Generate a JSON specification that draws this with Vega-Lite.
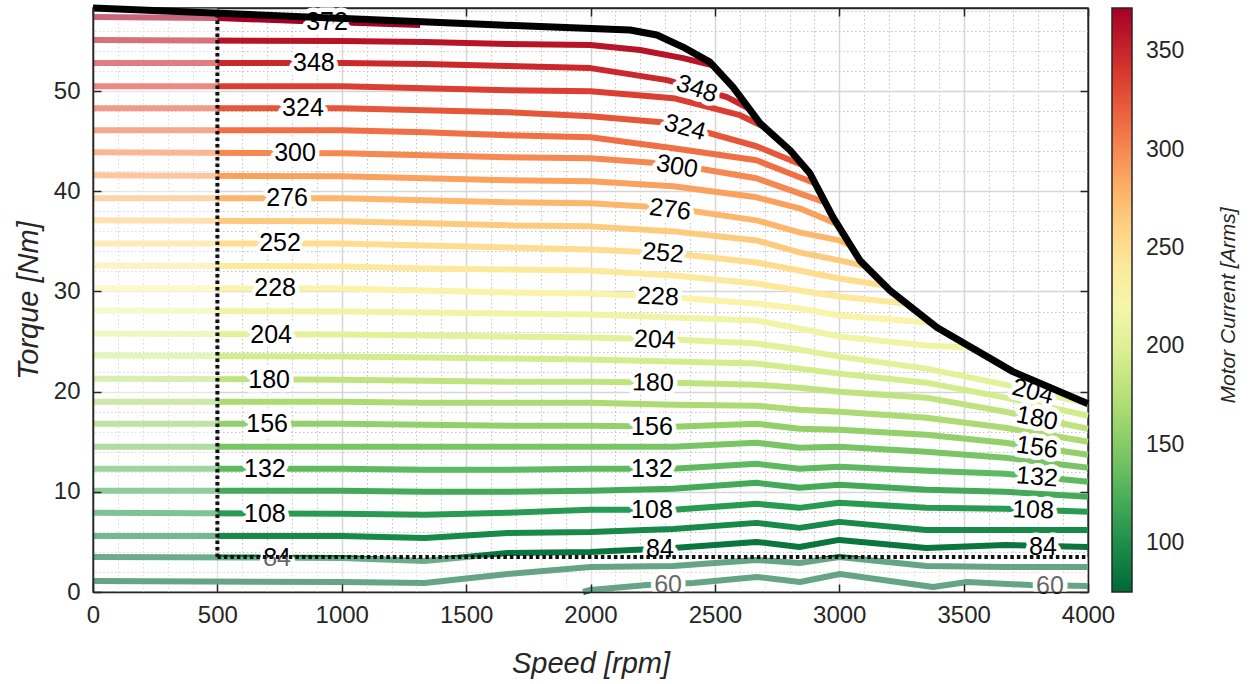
{
  "$schema": "https://vega.github.io/schema/vega-lite/v6.json",
  "width": 995,
  "height": 584,
  "autosize": {"type": "none"},
  "padding": {"left": 93, "top": 8, "right": 162, "bottom": 92},
  "background": "white",
  "config": {
    "view": {"stroke": "#262626", "strokeWidth": 1.5},
    "font": "Liberation Sans",
    "axis": {"labelFont": "Liberation Sans", "titleFont": "Liberation Sans", "labelColor": "#262626", "titleColor": "#262626", "tickColor": "#262626", "domainColor": "#262626", "domainWidth": 1.5, "tickWidth": 1.5, "labelOverlap": false, "labelFlush": false},
    "legend": {"labelFont": "Liberation Sans", "titleFont": "Liberation Sans"}
  },
  "datasets": {
    "lines": [
      {"I":60,"rpm":1970,"T":0},{"I":60,"rpm":1998,"T":0.2},{"I":60,"rpm":2227,"T":0.7},{"I":60,"rpm":2412,"T":0.9},{"I":60,"rpm":2669,"T":1.5},{"I":60,"rpm":2842,"T":1.0},{"I":60,"rpm":3003,"T":1.8},{"I":60,"rpm":3377,"T":0.5},{"I":60,"rpm":3514,"T":1.0},{"I":60,"rpm":3767,"T":0.7},{"I":60,"rpm":4000,"T":0.6},
      {"I":72,"rpm":0,"T":1.1},{"I":72,"rpm":1000,"T":1.0},{"I":72,"rpm":1333,"T":0.9},{"I":72,"rpm":1667,"T":1.8},{"I":72,"rpm":2000,"T":2.5},{"I":72,"rpm":2333,"T":2.6},{"I":72,"rpm":2667,"T":3.2},{"I":72,"rpm":2840,"T":2.9},{"I":72,"rpm":3000,"T":3.5},{"I":72,"rpm":3350,"T":2.6},{"I":72,"rpm":3667,"T":2.5},{"I":72,"rpm":4000,"T":2.5},
      {"I":84,"rpm":0,"T":3.5},{"I":84,"rpm":1000,"T":3.4},{"I":84,"rpm":1333,"T":3.1},{"I":84,"rpm":1667,"T":3.9},{"I":84,"rpm":2000,"T":4.0},{"I":84,"rpm":2333,"T":4.4},{"I":84,"rpm":2667,"T":5.0},{"I":84,"rpm":2840,"T":4.5},{"I":84,"rpm":3000,"T":5.2},{"I":84,"rpm":3350,"T":4.4},{"I":84,"rpm":3667,"T":4.7},{"I":84,"rpm":4000,"T":4.5},
      {"I":96,"rpm":0,"T":5.6},{"I":96,"rpm":1000,"T":5.6},{"I":96,"rpm":1333,"T":5.4},{"I":96,"rpm":1667,"T":5.9},{"I":96,"rpm":2000,"T":6.0},{"I":96,"rpm":2333,"T":6.3},{"I":96,"rpm":2667,"T":6.9},{"I":96,"rpm":2840,"T":6.4},{"I":96,"rpm":3000,"T":7.0},{"I":96,"rpm":3350,"T":6.2},{"I":96,"rpm":3667,"T":6.2},{"I":96,"rpm":4000,"T":6.2},
      {"I":108,"rpm":0,"T":7.9},{"I":108,"rpm":1000,"T":7.8},{"I":108,"rpm":1333,"T":7.7},{"I":108,"rpm":1667,"T":7.9},{"I":108,"rpm":2000,"T":8.2},{"I":108,"rpm":2333,"T":8.2},{"I":108,"rpm":2667,"T":8.8},{"I":108,"rpm":2840,"T":8.4},{"I":108,"rpm":3000,"T":8.9},{"I":108,"rpm":3350,"T":8.4},{"I":108,"rpm":3667,"T":8.3},{"I":108,"rpm":4000,"T":8.0},
      {"I":120,"rpm":0,"T":10.1},{"I":120,"rpm":1000,"T":10.1},{"I":120,"rpm":1333,"T":10.0},{"I":120,"rpm":1667,"T":10.0},{"I":120,"rpm":2000,"T":10.1},{"I":120,"rpm":2333,"T":10.3},{"I":120,"rpm":2667,"T":10.9},{"I":120,"rpm":2840,"T":10.4},{"I":120,"rpm":3000,"T":10.7},{"I":120,"rpm":3350,"T":10.2},{"I":120,"rpm":3667,"T":10.0},{"I":120,"rpm":4000,"T":9.5},
      {"I":132,"rpm":0,"T":12.3},{"I":132,"rpm":1000,"T":12.3},{"I":132,"rpm":1333,"T":12.2},{"I":132,"rpm":1667,"T":12.2},{"I":132,"rpm":2000,"T":12.3},{"I":132,"rpm":2333,"T":12.3},{"I":132,"rpm":2667,"T":12.8},{"I":132,"rpm":2840,"T":12.3},{"I":132,"rpm":3000,"T":12.5},{"I":132,"rpm":3350,"T":12.1},{"I":132,"rpm":3667,"T":11.8},{"I":132,"rpm":4000,"T":11.0},
      {"I":144,"rpm":0,"T":14.5},{"I":144,"rpm":1000,"T":14.5},{"I":144,"rpm":1333,"T":14.5},{"I":144,"rpm":1667,"T":14.5},{"I":144,"rpm":2000,"T":14.5},{"I":144,"rpm":2333,"T":14.5},{"I":144,"rpm":2667,"T":14.9},{"I":144,"rpm":2840,"T":14.4},{"I":144,"rpm":3000,"T":14.5},{"I":144,"rpm":3350,"T":14.0},{"I":144,"rpm":3667,"T":13.4},{"I":144,"rpm":4000,"T":12.4},
      {"I":156,"rpm":0,"T":16.8},{"I":156,"rpm":1000,"T":16.8},{"I":156,"rpm":1333,"T":16.7},{"I":156,"rpm":1667,"T":16.6},{"I":156,"rpm":2000,"T":16.6},{"I":156,"rpm":2333,"T":16.5},{"I":156,"rpm":2667,"T":16.8},{"I":156,"rpm":2840,"T":16.3},{"I":156,"rpm":3000,"T":16.2},{"I":156,"rpm":3350,"T":15.7},{"I":156,"rpm":3667,"T":14.9},{"I":156,"rpm":4000,"T":13.7},
      {"I":168,"rpm":0,"T":19.0},{"I":168,"rpm":1000,"T":19.0},{"I":168,"rpm":1333,"T":18.9},{"I":168,"rpm":1667,"T":18.9},{"I":168,"rpm":2000,"T":18.9},{"I":168,"rpm":2333,"T":18.7},{"I":168,"rpm":2667,"T":18.6},{"I":168,"rpm":2840,"T":18.2},{"I":168,"rpm":3000,"T":18.0},{"I":168,"rpm":3350,"T":17.4},{"I":168,"rpm":3667,"T":16.4},{"I":168,"rpm":4000,"T":15.0},
      {"I":180,"rpm":0,"T":21.3},{"I":180,"rpm":1000,"T":21.2},{"I":180,"rpm":1333,"T":21.1},{"I":180,"rpm":1667,"T":21.0},{"I":180,"rpm":2000,"T":21.0},{"I":180,"rpm":2333,"T":20.9},{"I":180,"rpm":2667,"T":20.7},{"I":180,"rpm":2840,"T":20.4},{"I":180,"rpm":3000,"T":20.0},{"I":180,"rpm":3350,"T":19.4},{"I":180,"rpm":3667,"T":18.0},{"I":180,"rpm":4000,"T":16.3},
      {"I":192,"rpm":0,"T":23.6},{"I":192,"rpm":1000,"T":23.5},{"I":192,"rpm":1333,"T":23.4},{"I":192,"rpm":1667,"T":23.3},{"I":192,"rpm":2000,"T":23.2},{"I":192,"rpm":2333,"T":23.0},{"I":192,"rpm":2667,"T":22.8},{"I":192,"rpm":2840,"T":22.3},{"I":192,"rpm":3000,"T":21.8},{"I":192,"rpm":3350,"T":20.9},{"I":192,"rpm":3667,"T":19.4},{"I":192,"rpm":4000,"T":17.6},
      {"I":204,"rpm":0,"T":25.8},{"I":204,"rpm":1000,"T":25.7},{"I":204,"rpm":1333,"T":25.6},{"I":204,"rpm":1667,"T":25.5},{"I":204,"rpm":2000,"T":25.4},{"I":204,"rpm":2333,"T":25.2},{"I":204,"rpm":2667,"T":24.8},{"I":204,"rpm":2840,"T":24.2},{"I":204,"rpm":3000,"T":23.5},{"I":204,"rpm":3350,"T":22.3},{"I":204,"rpm":3667,"T":20.7},{"I":204,"rpm":4000,"T":18.8},
      {"I":216,"rpm":0,"T":28.1},{"I":216,"rpm":1000,"T":28.0},{"I":216,"rpm":1333,"T":27.9},{"I":216,"rpm":1667,"T":27.8},{"I":216,"rpm":2000,"T":27.7},{"I":216,"rpm":2333,"T":27.4},{"I":216,"rpm":2667,"T":27.1},{"I":216,"rpm":2840,"T":26.3},{"I":216,"rpm":3000,"T":25.5},{"I":216,"rpm":3350,"T":24.6},{"I":216,"rpm":3526,"T":24.4},
      {"I":228,"rpm":0,"T":30.3},{"I":228,"rpm":1000,"T":30.3},{"I":228,"rpm":1333,"T":30.1},{"I":228,"rpm":1667,"T":29.9},{"I":228,"rpm":2000,"T":29.8},{"I":228,"rpm":2333,"T":29.4},{"I":228,"rpm":2667,"T":28.8},{"I":228,"rpm":2840,"T":28.3},{"I":228,"rpm":3000,"T":27.6},{"I":228,"rpm":3365,"T":26.9},
      {"I":240,"rpm":0,"T":32.6},{"I":240,"rpm":1000,"T":32.5},{"I":240,"rpm":1333,"T":32.3},{"I":240,"rpm":1667,"T":32.2},{"I":240,"rpm":2000,"T":32.1},{"I":240,"rpm":2333,"T":31.6},{"I":240,"rpm":2667,"T":30.8},{"I":240,"rpm":2840,"T":30.1},{"I":240,"rpm":3000,"T":29.5},{"I":240,"rpm":3272,"T":28.8},
      {"I":252,"rpm":0,"T":34.8},{"I":252,"rpm":1000,"T":34.8},{"I":252,"rpm":1333,"T":34.6},{"I":252,"rpm":1667,"T":34.4},{"I":252,"rpm":2000,"T":34.2},{"I":252,"rpm":2333,"T":33.8},{"I":252,"rpm":2667,"T":32.9},{"I":252,"rpm":2840,"T":32.1},{"I":252,"rpm":3000,"T":31.3},{"I":252,"rpm":3184,"T":30.6},
      {"I":264,"rpm":0,"T":37.1},{"I":264,"rpm":1000,"T":37.0},{"I":264,"rpm":1333,"T":36.8},{"I":264,"rpm":1667,"T":36.6},{"I":264,"rpm":2000,"T":36.5},{"I":264,"rpm":2333,"T":36.0},{"I":264,"rpm":2667,"T":35.1},{"I":264,"rpm":2840,"T":33.9},{"I":264,"rpm":3000,"T":33.1},{"I":264,"rpm":3108,"T":32.5},
      {"I":276,"rpm":0,"T":39.3},{"I":276,"rpm":1000,"T":39.3},{"I":276,"rpm":1333,"T":39.1},{"I":276,"rpm":1667,"T":38.9},{"I":276,"rpm":2000,"T":38.8},{"I":276,"rpm":2333,"T":38.3},{"I":276,"rpm":2667,"T":37.1},{"I":276,"rpm":2840,"T":35.9},{"I":276,"rpm":3000,"T":35.1},{"I":276,"rpm":3043,"T":34.6},
      {"I":288,"rpm":0,"T":41.6},{"I":288,"rpm":1000,"T":41.5},{"I":288,"rpm":1333,"T":41.3},{"I":288,"rpm":1667,"T":41.1},{"I":288,"rpm":2000,"T":41.0},{"I":288,"rpm":2333,"T":40.5},{"I":288,"rpm":2667,"T":39.4},{"I":288,"rpm":2840,"T":38.3},{"I":288,"rpm":2995,"T":36.7},
      {"I":300,"rpm":0,"T":43.9},{"I":300,"rpm":1000,"T":43.8},{"I":300,"rpm":1333,"T":43.6},{"I":300,"rpm":1667,"T":43.4},{"I":300,"rpm":2000,"T":43.3},{"I":300,"rpm":2333,"T":42.7},{"I":300,"rpm":2667,"T":41.3},{"I":300,"rpm":2943,"T":38.9},
      {"I":312,"rpm":0,"T":46.1},{"I":312,"rpm":1000,"T":46.1},{"I":312,"rpm":1333,"T":45.9},{"I":312,"rpm":1667,"T":45.6},{"I":312,"rpm":2000,"T":45.4},{"I":312,"rpm":2333,"T":44.3},{"I":312,"rpm":2667,"T":43.1},{"I":312,"rpm":2902,"T":40.8},
      {"I":324,"rpm":0,"T":48.3},{"I":324,"rpm":1000,"T":48.3},{"I":324,"rpm":1333,"T":48.1},{"I":324,"rpm":1667,"T":47.9},{"I":324,"rpm":2000,"T":47.5},{"I":324,"rpm":2333,"T":46.8},{"I":324,"rpm":2667,"T":44.5},{"I":324,"rpm":2854,"T":42.6},
      {"I":336,"rpm":0,"T":50.5},{"I":336,"rpm":1000,"T":50.5},{"I":336,"rpm":1333,"T":50.3},{"I":336,"rpm":1667,"T":50.1},{"I":336,"rpm":2000,"T":50.0},{"I":336,"rpm":2333,"T":49.3},{"I":336,"rpm":2601,"T":47.6},{"I":336,"rpm":2701,"T":46.4},
      {"I":348,"rpm":0,"T":52.8},{"I":348,"rpm":1000,"T":52.8},{"I":348,"rpm":1333,"T":52.7},{"I":348,"rpm":1667,"T":52.5},{"I":348,"rpm":2000,"T":52.3},{"I":348,"rpm":2308,"T":51.1},{"I":348,"rpm":2549,"T":49.4},{"I":348,"rpm":2633,"T":48.3},
      {"I":360,"rpm":0,"T":55.1},{"I":360,"rpm":1000,"T":55.0},{"I":360,"rpm":1333,"T":54.9},{"I":360,"rpm":1667,"T":54.7},{"I":360,"rpm":2000,"T":54.6},{"I":360,"rpm":2199,"T":54.1},{"I":360,"rpm":2372,"T":53.3},{"I":360,"rpm":2488,"T":52.6},
      {"I":372,"rpm":0,"T":57.4},{"I":372,"rpm":500,"T":57.3},{"I":372,"rpm":832,"T":57.0},{"I":372,"rpm":1315,"T":56.6}
    ],
    "labs": [
      {"t":"372","rpm":941,"T":56.9,"a":0},
      {"t":"348","rpm":888,"T":52.8,"a":0},
      {"t":"324","rpm":844,"T":48.3,"a":0},
      {"t":"300","rpm":812,"T":43.8,"a":0},
      {"t":"276","rpm":780,"T":39.3,"a":0},
      {"t":"252","rpm":752,"T":34.8,"a":0},
      {"t":"228","rpm":732,"T":30.3,"a":0},
      {"t":"204","rpm":716,"T":25.7,"a":0},
      {"t":"180","rpm":708,"T":21.2,"a":0},
      {"t":"156","rpm":700,"T":16.8,"a":0},
      {"t":"132","rpm":691,"T":12.3,"a":0},
      {"t":"108","rpm":691,"T":7.8,"a":0},
      {"t":"84","rpm":740,"T":3.4,"a":0},
      {"t":"348","rpm":2428,"T":50.25,"a":18},
      {"t":"324","rpm":2380,"T":46.4,"a":15},
      {"t":"300","rpm":2348,"T":42.5,"a":10},
      {"t":"276","rpm":2320,"T":38.2,"a":7},
      {"t":"252","rpm":2292,"T":33.85,"a":5},
      {"t":"228","rpm":2271,"T":29.5,"a":3},
      {"t":"204","rpm":2259,"T":25.2,"a":2},
      {"t":"180","rpm":2251,"T":20.9,"a":1},
      {"t":"156","rpm":2247,"T":16.5,"a":0},
      {"t":"132","rpm":2247,"T":12.3,"a":0},
      {"t":"108","rpm":2247,"T":8.2,"a":0},
      {"t":"84","rpm":2279,"T":4.3,"a":0},
      {"t":"60","rpm":2312,"T":0.7,"a":0},
      {"t":"204","rpm":3779,"T":20.0,"a":14},
      {"t":"180","rpm":3795,"T":17.35,"a":11},
      {"t":"156","rpm":3795,"T":14.45,"a":8},
      {"t":"132","rpm":3795,"T":11.5,"a":5},
      {"t":"108","rpm":3779,"T":8.2,"a":2},
      {"t":"84","rpm":3819,"T":4.5,"a":0},
      {"t":"60","rpm":3847,"T":0.6,"a":0}
    ],
    "env": [
      {"rpm":0,"T":58.3},{"rpm":1636,"T":56.6},{"rpm":2159,"T":56.1},{"rpm":2267,"T":55.6},{"rpm":2372,"T":54.4},{"rpm":2480,"T":52.9},{"rpm":2573,"T":50.4},{"rpm":2681,"T":46.8},{"rpm":2802,"T":44.1},{"rpm":2882,"T":41.8},{"rpm":2975,"T":37.4},{"rpm":3083,"T":33.1},{"rpm":3204,"T":30.1},{"rpm":3393,"T":26.4},{"rpm":3698,"T":22.0},{"rpm":4000,"T":18.8}
    ],
    "bound": [
      {"rpm":500,"rpm2":500,"T":3.5,"T2":57.8},
      {"rpm":500,"rpm2":4000,"T":3.5,"T2":3.5}
    ],
    "fade": [
      {"rpm":0,"rpm2":500,"T":0,"T2":58.3},
      {"rpm":500,"rpm2":4000,"T":0,"T2":3.5}
    ]
  },
  "resolve": {"axis": {"x": "independent", "y": "independent"}},
  "layer": [
    {
      "data": {"name": "lines"},
      "mark": {"type": "line", "strokeWidth": 6, "strokeCap": "butt", "strokeJoin": "round"},
      "encoding": {
        "x": {"field": "rpm", "type": "quantitative", "scale": {"domain": [0, 4000], "nice": false, "zero": false},
          "axis": {"orient": "top", "values": [0,100,200,300,400,500,600,700,800,900,1000,1100,1200,1300,1400,1500,1600,1700,1800,1900,2000,2100,2200,2300,2400,2500,2600,2700,2800,2900,3000,3100,3200,3300,3400,3500,3600,3700,3800,3900,4000],
            "labels": false,
            "grid": true,
            "gridColor": {"condition": {"test": "datum.value % 500 === 0", "value": "#d6d6d6"}, "value": "#c4c4c4"},
            "gridDash": {"condition": {"test": "datum.value % 500 === 0", "value": []}, "value": [1.5, 2.5]},
            "gridWidth": {"condition": {"test": "datum.value % 500 === 0", "value": 1.5}, "value": 1},
            "tickOpacity": {"condition": {"test": "datum.value % 500 === 0", "value": 1}, "value": 0},
            "tickSize": -8, "title": null, "zindex": 0}},
        "y": {"field": "T", "type": "quantitative", "scale": {"domain": [0, 58.3], "nice": false, "zero": false},
          "axis": {"orient": "right", "values": [0,2,4,6,8,10,12,14,16,18,20,22,24,26,28,30,32,34,36,38,40,42,44,46,48,50,52,54,56,58],
            "labels": false,
            "grid": true,
            "gridColor": {"condition": {"test": "datum.value % 10 === 0", "value": "#d6d6d6"}, "value": "#c4c4c4"},
            "gridDash": {"condition": {"test": "datum.value % 10 === 0", "value": []}, "value": [1.5, 2.5]},
            "gridWidth": {"condition": {"test": "datum.value % 10 === 0", "value": 1.5}, "value": 1},
            "tickOpacity": {"condition": {"test": "datum.value % 10 === 0", "value": 1}, "value": 0},
            "tickSize": -8,
            "title": "Motor Current [Arms]", "titleAngle": 270, "titleX": 140, "titleY": 297, "titleAlign": "center", "titleBaseline": "middle",
            "titleFontSize": 21, "titleFontStyle": "italic", "titleFontWeight": "normal", "titleColor": "#262626",
            "zindex": 0}},
        "color": {"field": "I", "type": "quantitative",
          "scale": {"scheme": "redyellowgreen", "reverse": true, "domain": [75, 372], "clamp": true},
          "legend": {"title": null, "orient": "none", "legendX": 1019, "legendY": 0, "padding": 0,
            "gradientLength": 584, "gradientThickness": 20, "gradientStrokeColor": "#262626", "gradientStrokeWidth": 1.5,
            "values": [100, 150, 200, 250, 300, 350], "labelFontSize": 23, "labelColor": "#262626", "labelOffset": 14, "labelOverlap": false}},
        "detail": {"field": "I", "type": "nominal"}
      }
    },
    {
      "data": {"name": "labs"},
      "mark": {"type": "text", "fontSize": 25, "fill": "white", "stroke": "white", "strokeWidth": 9, "strokeJoin": "round", "baseline": "middle", "align": "center"},
      "encoding": {
        "x": {"field": "rpm", "type": "quantitative", "axis": null},
        "y": {"field": "T", "type": "quantitative", "axis": null},
        "text": {"field": "t"},
        "angle": {"field": "a", "type": "quantitative", "scale": null}
      }
    },
    {
      "data": {"name": "labs"},
      "mark": {"type": "text", "fontSize": 25, "fill": "black", "baseline": "middle", "align": "center"},
      "encoding": {
        "x": {"field": "rpm", "type": "quantitative", "axis": null},
        "y": {"field": "T", "type": "quantitative", "axis": null},
        "text": {"field": "t"},
        "angle": {"field": "a", "type": "quantitative", "scale": null}
      }
    },
    {
      "data": {"name": "fade"},
      "mark": {"type": "rect", "fill": "white", "opacity": 0.4},
      "encoding": {
        "x": {"field": "rpm", "type": "quantitative", "axis": null},
        "x2": {"field": "rpm2"},
        "y": {"field": "T", "type": "quantitative", "axis": null},
        "y2": {"field": "T2"}
      }
    },
    {
      "data": {"name": "bound"},
      "mark": {"type": "rule", "stroke": "#111111", "strokeWidth": 4, "strokeDash": [3.5, 3], "strokeCap": "butt"},
      "encoding": {
        "x": {"field": "rpm", "type": "quantitative", "axis": null},
        "x2": {"field": "rpm2"},
        "y": {"field": "T", "type": "quantitative", "axis": null},
        "y2": {"field": "T2"}
      }
    },
    {
      "data": {"name": "env"},
      "mark": {"type": "line", "color": "black", "strokeWidth": 7, "strokeJoin": "round"},
      "encoding": {
        "x": {"field": "rpm", "type": "quantitative",
          "axis": {"orient": "bottom", "values": [0,500,1000,1500,2000,2500,3000,3500,4000], "format": "d", "grid": false, "tickSize": -8, "labelPadding": 19, "labelFontSize": 24,
            "title": "Speed [rpm]", "titleFontSize": 29, "titleFontStyle": "italic", "titleFontWeight": "normal", "titlePadding": 22, "zindex": 1}},
        "y": {"field": "T", "type": "quantitative",
          "axis": {"orient": "left", "values": [0,10,20,30,40,50], "format": "d", "grid": false, "tickSize": -8, "labelPadding": 21, "labelFontSize": 24,
            "title": "Torque [Nm]", "titleFontSize": 29, "titleFontStyle": "italic", "titleFontWeight": "normal", "titlePadding": 10, "zindex": 1}}
      }
    }
  ]
}
